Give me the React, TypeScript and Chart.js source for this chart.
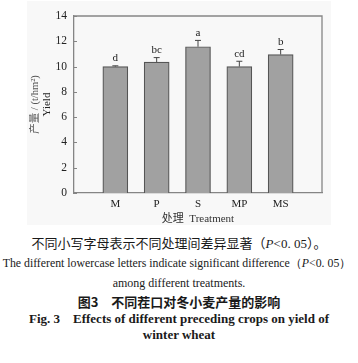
import React, { useEffect, useRef } from "react";
import { Chart, registerables } from "chart.js";

Chart.register(...registerables);

const categories = ["M", "P", "S", "MP", "MS"];
const yieldValues = [10.0, 10.35, 11.57, 10.0, 10.95];
const errorValues = [0.06, 0.36, 0.5, 0.42, 0.4];
const sigLetters = ["d", "bc", "a", "cd", "b"];
const yTicks = [0, 2, 4, 6, 8, 10, 12, 14];
const yTitleLines = ["产量 / (t/hm²)", "Yield"];
const xTitle = "处理  Treatment";

const SERIF = "'Liberation Serif', 'Times New Roman', serif";

const annotPlugin = {
  id: "annot",
  afterDatasetsDraw(chart: any) {
    const ctx = chart.ctx;
    const xs = chart.scales.x;
    const ys = chart.scales.y;
    const area = chart.chartArea;
    ctx.save();
    // frame top & right
    ctx.strokeStyle = "#858585";
    ctx.lineWidth = 1.3;
    ctx.beginPath();
    ctx.moveTo(area.left, area.top);
    ctx.lineTo(area.right, area.top);
    ctx.lineTo(area.right, area.bottom);
    ctx.stroke();
    // inward ticks on y axis
    ctx.lineWidth = 1;
    yTicks.forEach((t) => {
      const y = Math.round(ys.getPixelForValue(t)) + 0.5;
      ctx.beginPath();
      ctx.moveTo(area.left, y);
      ctx.lineTo(area.left + 3, y);
      ctx.stroke();
    });
    // error bars + letters
    ctx.strokeStyle = "#444";
    ctx.fillStyle = "#222";
    ctx.font = `11px ${SERIF}`;
    ctx.textAlign = "center";
    ctx.textBaseline = "middle";
    yieldValues.forEach((v, i) => {
      const x = xs.getPixelForValue(i + 1);
      const y0 = ys.getPixelForValue(v);
      const y1 = ys.getPixelForValue(v + errorValues[i]);
      ctx.beginPath();
      ctx.moveTo(x, y0);
      ctx.lineTo(x, y1);
      ctx.moveTo(x - 3, y1);
      ctx.lineTo(x + 3, y1);
      ctx.stroke();
      ctx.fillText(sigLetters[i], x, y1 - 7.5);
    });
    // y title
    ctx.fillStyle = "#555";
    ctx.font = `10.5px ${SERIF}, 'Noto Sans CJK SC'`;
    const cy = (area.top + area.bottom) / 2;
    ctx.translate(35, cy);
    ctx.rotate(-Math.PI / 2);
    ctx.fillText(yTitleLines[0], 0, 0);
    ctx.fillStyle = "#222";
    ctx.font = `11px ${SERIF}`;
    ctx.fillText(yTitleLines[1], 0, 12);
    ctx.setTransform(1, 0, 0, 1, 0, 0);
    // x title
    ctx.fillStyle = "#333";
    ctx.font = `11px ${SERIF}, 'Noto Sans CJK SC'`;
    ctx.fillText(xTitle, (area.left + area.right) / 2, 219);
    ctx.restore();
  },
};

function BarChart() {
  const ref = useRef<HTMLCanvasElement>(null);
  useEffect(() => {
    if (!ref.current) return;
    const labels = ["", ...categories, ""];
    const data = [null, ...yieldValues, null];
    const chart = new Chart(ref.current, {
      type: "bar",
      data: {
        labels,
        datasets: [
          {
            data: data as any,
            backgroundColor: "#a1a1a1",
            borderColor: "#555",
            borderWidth: 1.2,
            barThickness: 25,
          },
        ],
      },
      options: {
        animation: false,
        responsive: false,
        maintainAspectRatio: false,
        layout: { padding: { left: 0, right: 36, top: 16, bottom: 0 } },
        plugins: { legend: { display: false }, tooltip: { enabled: false } },
        scales: {
          x: {
            offset: false,
            grid: { display: false, drawTicks: false },
            border: { display: true, color: "#858585", width: 1.3 },
            ticks: {
              autoSkip: false,
              maxRotation: 0,
              padding: 5,
              color: "#222",
              font: { family: SERIF, size: 11 },
            },
            afterFit(scale: any) {
              scale.height = 37;
            },
          },
          y: {
            min: 0,
            max: 14,
            grid: { display: false, drawTicks: false },
            border: { display: true, color: "#858585", width: 1.3 },
            ticks: {
              stepSize: 2,
              padding: 7,
              color: "#222",
              font: { family: SERIF, size: 11.5 },
            },
            afterFit(scale: any) {
              scale.width = 74;
            },
          },
        },
      },
      plugins: [annotPlugin],
    });
    return () => chart.destroy();
  }, []);
  return <canvas ref={ref} width={358} height={230} style={{ position: "absolute", left: 0, top: 0, width: 358, height: 230 }} />;
}

const line = (top: number, content: React.ReactNode, style: React.CSSProperties = {}) => (
  <div
    style={{
      position: "absolute",
      left: 0,
      width: 358,
      top,
      textAlign: "center",
      whiteSpace: "nowrap",
      lineHeight: "18px",
      height: 18,
      color: "#1a1a1a",
      ...style,
    }}
  >
    {content}
  </div>
);

export default function App() {
  return (
    <div style={{ position: "fixed", left: 0, top: 0, width: 358, height: 363, background: "#fff", overflow: "hidden" }}>
      <div style={{ position: "absolute", left: 27, top: 1, width: 304, height: 224, background: "#f8f8f8" }} />
      <BarChart />
      {line(234, <span>不同小写字母表示不同处理间差异显著（<i style={{ fontFamily: SERIF }}>P</i><span style={{ fontFamily: SERIF }}>&lt;0. 05</span>）。</span>, { fontFamily: "'Noto Sans CJK SC'", fontSize: 13 })}
      {line(254, <span>The different lowercase letters indicate significant difference（<i>P</i>&lt;0. 05）</span>, { fontFamily: SERIF, fontSize: 11.8, left: -2 })}
      {line(274, "among different treatments.", { fontFamily: SERIF, fontSize: 12 })}
      {line(293, "图3　不同茬口对冬小麦产量的影响", { fontFamily: "'Noto Sans CJK SC'", fontSize: 13, fontWeight: 700 })}
      {line(310, "Fig. 3　Effects of different preceding crops on yield of", { fontFamily: SERIF, fontSize: 13, fontWeight: 700 })}
      {line(326, "winter wheat", { fontFamily: SERIF, fontSize: 13, fontWeight: 700 })}
    </div>
  );
}
